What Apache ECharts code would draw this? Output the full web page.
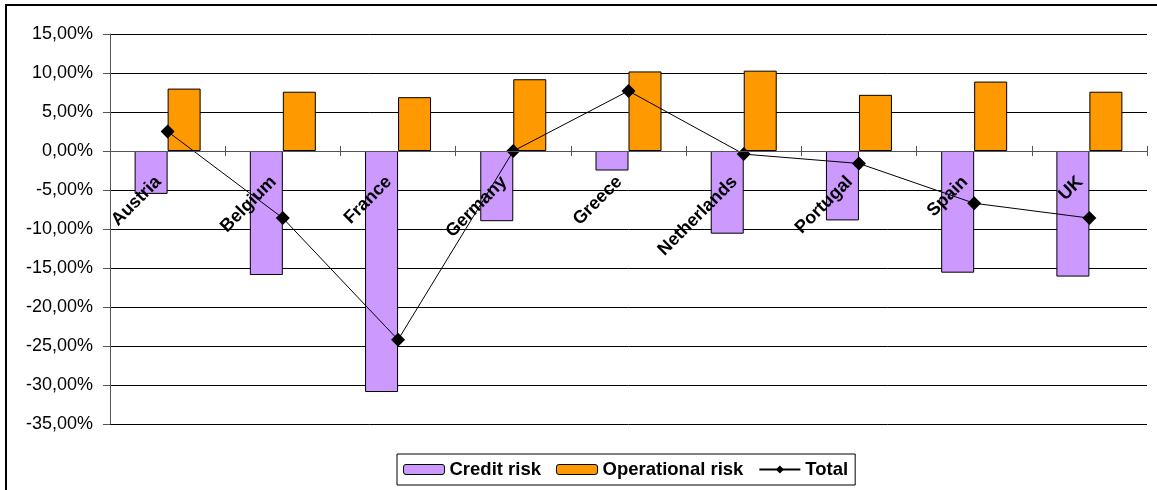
<!DOCTYPE html>
<html>
<head>
<meta charset="utf-8">
<script src="https://cdn.jsdelivr.net/npm/echarts@6/dist/echarts.min.js"></script>
<style>
  html, body { margin: 0; padding: 0; background: #fff; }
  #chart { width: 1157px; height: 490px; }
</style>
</head>
<body>
<div id="chart"></div>
<script>
// Countries and risk contributions (in %)
const countries = ['Austria', 'Belgium', 'France', 'Germany', 'Greece', 'Netherlands', 'Portugal', 'Spain', 'UK'];
const creditRisk = [-5.5, -15.9, -30.9, -9.0, -2.5, -10.6, -8.9, -15.6, -16.1];
const operationalRisk = [8.0, 7.6, 6.9, 9.2, 10.2, 10.3, 7.2, 8.9, 7.6];
const total = [2.5, -8.6, -24.2, 0.0, 7.7, -0.4, -1.6, -6.7, -8.6];
const yTicks = { min: -35, max: 15, step: 5 };

const fontFamily = 'Arial, "Liberation Sans", sans-serif';
const pct = v => v.toFixed(2).replace('.', ',') + '%';

const W = 1157, H = 490;
const gridBox = { left: 110, right: 10, top: 34, bottom: 66 };
// Lift the category axis from the plot's bottom edge up to the 0% line
const plotHeight = H - gridBox.top - gridBox.bottom;
const zeroLift = plotHeight * (0 - yTicks.min) / (yTicks.max - yTicks.min);

const chart = echarts.init(document.getElementById('chart'), null, { renderer: 'canvas' });
chart.setOption({
  animation: false,
  backgroundColor: '#ffffff',
  textStyle: { fontFamily: fontFamily },
  graphic: [{
    type: 'rect',
    shape: { x: 6, y: 5, width: 1170, height: 510 },
    style: { fill: 'none', stroke: '#000', lineWidth: 2 },
    silent: true,
    z: -10
  }],
  grid: Object.assign({ containLabel: false, outerBoundsMode: 'none' }, gridBox),
  legend: {
    left: 397,
    top: 454,
    padding: [6, 7, 6, 6],
    itemWidth: 41,
    itemHeight: 10,
    itemGap: 15,
    borderColor: '#000',
    borderWidth: 1,
    textStyle: { fontSize: 18.5, fontWeight: 'bold', color: '#000', fontFamily: fontFamily },
    data: [
      { name: 'Credit risk', itemStyle: { color: '#CC99FF', borderColor: '#000', borderWidth: 1 } },
      { name: 'Operational risk', itemStyle: { color: '#FF9900', borderColor: '#000', borderWidth: 1 } },
      { name: 'Total' }
    ]
  },
  xAxis: [
    {
      type: 'category',
      data: countries,
      position: 'bottom',
      offset: -zeroLift,
      z: 20,
      axisLine: { onZero: false, lineStyle: { color: '#555', width: 1 } },
      axisTick: { show: true, inside: false, length: 5, lineStyle: { color: '#555' } },
      splitLine: { show: false },
      axisLabel: {
        interval: 0,
        rotate: 45,
        margin: 19,
        padding: [0, 13, 0, 0],
        fontSize: 18,
        fontWeight: 'bold',
        color: '#000',
        fontFamily: fontFamily
      }
    },
    {
      // upper half of the cross tick marks on the 0% line
      type: 'category',
      data: countries,
      position: 'bottom',
      offset: -zeroLift,
      z: 20,
      axisLine: { show: false, onZero: false },
      axisTick: { show: true, inside: true, length: 5, lineStyle: { color: '#555' } },
      splitLine: { show: false },
      axisLabel: { show: false }
    }
  ],
  yAxis: {
    type: 'value',
    min: yTicks.min,
    max: yTicks.max,
    interval: yTicks.step,
    axisLine: { show: true, lineStyle: { color: '#555', width: 1 } },
    axisTick: { show: true, inside: false, length: 7, lineStyle: { color: '#555' } },
    splitLine: { show: true, lineStyle: { color: '#000', width: 1 } },
    axisLabel: {
      formatter: pct,
      margin: 17,
      fontSize: 18,
      color: '#000',
      fontFamily: fontFamily
    }
  },
  series: [
    {
      name: 'Credit risk',
      type: 'bar',
      data: creditRisk,
      barWidth: 33,
      barGap: '0%',
      itemStyle: { color: '#CC99FF', borderColor: '#000', borderWidth: 1 }
    },
    {
      name: 'Operational risk',
      type: 'bar',
      data: operationalRisk,
      barWidth: 33,
      barGap: '0%',
      itemStyle: { color: '#FF9900', borderColor: '#000', borderWidth: 1 }
    },
    {
      name: 'Total',
      type: 'line',
      data: total,
      symbol: 'diamond',
      symbolSize: 14,
      lineStyle: { color: '#000', width: 1 },
      itemStyle: { color: '#000' },
      z: 5
    }
  ]
});
</script>
</body>
</html>
